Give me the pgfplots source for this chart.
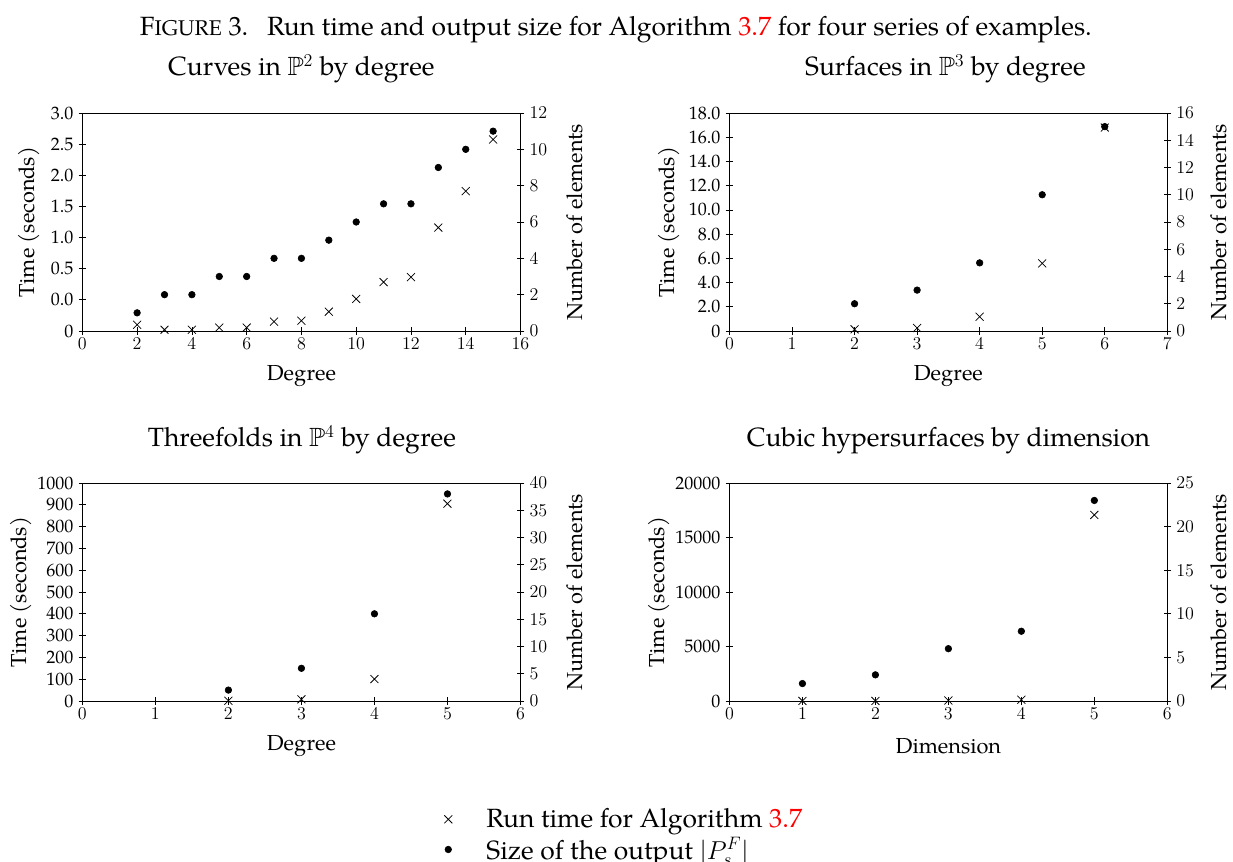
\documentclass[border=0pt]{standalone}
\usepackage{amssymb}
\usepackage{fontspec}
\setmainfont{TeX Gyre Pagella}
\usepackage{xcolor}
\usepackage{pgfplots}
\pgfplotsset{compat=1.18}

\newcommand{\ttl}{\fontsize{17.6}{21}\selectfont}
\newcommand{\lbl}{\fontsize{14.5}{17}\selectfont}
\newcommand{\tck}{\fontsize{12}{14}\selectfont}

\pgfplotsset{
  base/.style={
    scale only axis, height=145.33pt,
    tick align=center, major tick length=5pt,
    tick label style={font=\tck},
    label style={font=\lbl},
    clip=false,
    scaled y ticks=false,
    axis line style={line width=0.5pt},
    every tick/.style={black, line width=0.5pt},
  },
  leftax/.style={base,
    xtick pos=left, xticklabel pos=left,
    ytick pos=left, yticklabel pos=left,
    xticklabel style={yshift=1.5pt},
    ylabel={Time (seconds)},
    ylabel style={at={([xshift=-#1]axis description cs:0,0.5)}, anchor=center},
    xlabel style={at={(axis description cs:0.5,0)}, anchor=base, yshift=-32.7pt},
  },
  rightax/.style={base,
    axis x line=none, axis y line*=right,
    ytick pos=right, yticklabel pos=right,
    ylabel={Number of elements},
    ylabel style={at={([xshift=#1]axis description cs:1,0.5)}, anchor=center},
  },
  crs/.style={only marks, mark=x, mark size=3.75pt, black, mark options={line width=0.5pt}},
  dot/.style={only marks, mark=*, mark size=2.2pt, black},
}

\begin{document}
\begin{tikzpicture}
\path[use as bounding box] (0,0) rectangle (822pt,574.67pt);

% caption and titles
\node[anchor=base, inner sep=0pt, font=\ttl] at (410.6pt,551.3pt)
  {F{\fontsize{14.2}{17}\selectfont IGURE} 3.\hspace{12.5pt}Run time and output size for Algorithm \textcolor{red}{3.7} for four series of examples.};
\node[anchor=base, inner sep=0pt, font=\ttl] at (200.9pt,524pt) {Curves in $\mathbb{P}^2$ by degree};
\node[anchor=base, inner sep=0pt, font=\ttl] at (630.3pt,524pt) {Surfaces in $\mathbb{P}^3$ by degree};
\node[anchor=base, inner sep=0pt, font=\ttl] at (201.3pt,276.7pt) {Threefolds in $\mathbb{P}^4$ by degree};
\node[anchor=base, inner sep=0pt, font=\ttl] at (632.3pt,276.7pt) {Cubic hypersurfaces by dimension};

% ---------- Curves in P2 ----------
\begin{axis}[leftax=35.2pt, at={(54.9pt,354pt)}, anchor=south west, width=292.1pt,
  xmin=0, xmax=16, xtick={0,2,...,16}, xlabel={Degree},
  ymin=0, ymax=3.5, ytick={0,0.5,1,1.5,2,2.5,3,3.5},
  yticklabels={0,0.0,0.5,1.0,1.5,2.0,2.5,3.0}]
\addplot[crs] coordinates {(2,0.10) (3,0.02) (4,0.02) (5,0.055) (6,0.055) (7,0.15) (8,0.165)
  (9,0.31) (10,0.515) (11,0.785) (12,0.865) (13,1.66) (14,2.245) (15,3.075)};
\end{axis}
\begin{axis}[rightax=36.2pt, at={(54.9pt,354pt)}, anchor=south west, width=292.1pt,
  xmin=0, xmax=16, ymin=0, ymax=12, ytick={0,2,...,12}]
\addplot[dot] coordinates {(2,1) (3,2) (4,2) (5,3) (6,3) (7,4) (8,4) (9,5) (10,6)
  (11,7) (12,7) (13,9) (14,10) (15,11)};
\end{axis}

% ---------- Surfaces in P3 ----------
\begin{axis}[leftax=40.4pt, at={(486.3pt,354pt)}, anchor=south west, width=291.9pt,
  xmin=0, xmax=7, xtick={0,...,7}, xlabel={Degree},
  ymin=0, ymax=18, ytick={0,2,...,18},
  yticklabels={0,2.0,4.0,6.0,8.0,10.0,12.0,14.0,16.0,18.0}]
\addplot[crs] coordinates {(2,0.14) (3,0.25) (4,1.18) (5,5.58) (6,16.8)};
\end{axis}
\begin{axis}[rightax=34.5pt, at={(486.3pt,354pt)}, anchor=south west, width=291.9pt,
  xmin=0, xmax=7, ymin=0, ymax=16, ytick={0,2,...,16}]
\addplot[dot] coordinates {(2,2) (3,3) (4,5) (5,10) (6,15)};
\end{axis}

% ---------- Threefolds in P4 ----------
\begin{axis}[leftax=40.9pt, at={(54.9pt,107.33pt)}, anchor=south west, width=292.1pt,
  xmin=0, xmax=6, xtick={0,...,6}, xlabel={Degree},
  ymin=0, ymax=1000, ytick={0,100,...,1000},
  yticklabels={0,100,200,300,400,500,600,700,800,900,1000},
  legend cell align=left,
  legend image code/.code={\draw[#1] plot coordinates {(0pt,0pt)};},
  legend style={at={(axis description cs:0.8254,-0.492)}, anchor=north west,
    draw=none, fill=none, inner sep=0pt, font=\ttl,
    row sep=5pt, column sep=22.8pt, nodes={inner sep=0pt}}]
\addplot[crs] coordinates {(2,1) (3,7.6) (4,100.8) (5,905)};
\addlegendentry{Run time for Algorithm \textcolor{red}{3.7}}
\addlegendimage{dot}
\addlegendentry{Size of the output $|P^F_s|$}
\end{axis}
\begin{axis}[rightax=36.2pt, at={(54.9pt,107.33pt)}, anchor=south west, width=292.1pt,
  xmin=0, xmax=6, ymin=0, ymax=40, ytick={0,5,...,40}]
\addplot[dot] coordinates {(2,2) (3,6) (4,16) (5,38)};
\end{axis}

% ---------- Cubic hypersurfaces ----------
\begin{axis}[leftax=46.7pt, at={(486.3pt,107.33pt)}, anchor=south west, width=291.9pt,
  xmin=0, xmax=6, xtick={0,...,6}, xlabel={Dimension},
  xlabel style={yshift=-2pt},
  ymin=0, ymax=20000, ytick={0,5000,10000,15000,20000},
  yticklabels={0,5000,10000,15000,20000}]
\addplot[crs] coordinates {(1,5) (2,10) (3,50) (4,120) (5,17070)};
\end{axis}
\begin{axis}[rightax=34.5pt, at={(486.3pt,107.33pt)}, anchor=south west, width=291.9pt,
  xmin=0, xmax=6, ymin=0, ymax=25, ytick={0,5,...,25}]
\addplot[dot] coordinates {(1,2) (2,3) (3,6) (4,8) (5,23)};
\end{axis}
\end{tikzpicture}
\end{document}
